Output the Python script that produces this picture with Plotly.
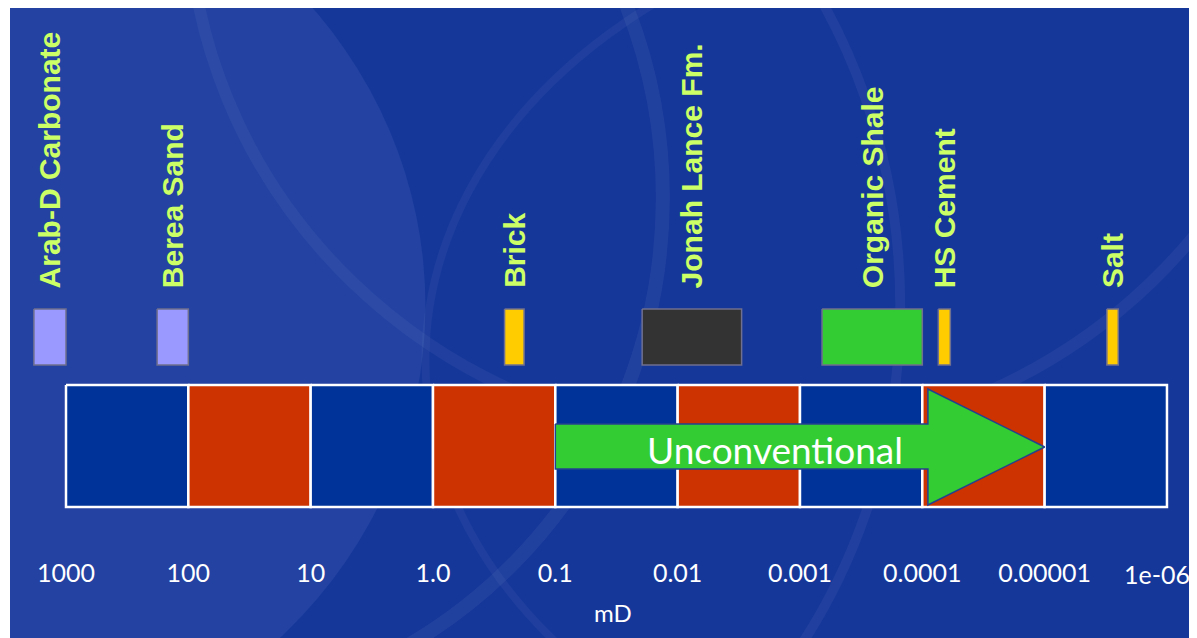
import math
import plotly.graph_objects as go

# ---- data ----
decade_edges = [1000, 100, 10, 1.0, 0.1, 0.01, 0.001, 0.0001, 0.00001, 0.000001]
decade_colors = ["#003399", "#CC3300", "#003399", "#CC3300", "#003399",
                 "#CC3300", "#003399", "#CC3300", "#003399"]

materials = ["Arab-D Carbonate", "Berea Sand", "Brick", "Jonah Lance Fm.",
             "Organic Shale", "HS Cement", "Salt"]
perm_high = [1830, 180, 0.26, 0.0195, 0.00066, 0.000074, 0.0000031]
perm_low = [1000, 100, 0.18, 0.003, 0.0001, 0.000059, 0.0000025]
material_colors = ["#9999FF", "#9999FF", "#FFCC00", "#333333",
                   "#33CC33", "#FFCC00", "#FFCC00"]

tick_vals = [1000, 100, 10, 1.0, 0.1, 0.01, 0.001, 0.0001, 0.00001, 0.000001]
tick_text = ["1000", "100", "10", "1.0", "0.1", "0.01", "0.001", "0.0001",
             "0.00001", "1e-06"]

arrow_start = 0.1
arrow_head_base = 0.00009
arrow_tip = 0.00001
arrow_label = "Unconventional"
arrow_label_x = 0.0016
axis_title = "mD"

# ---- vertical layout (y axis in page-pixel-like units, reversed) ----
band_top, band_bottom = 385, 507
mat_top, mat_bottom = 309, 365
label_base = 290
shaft_top, shaft_bottom = 424, 469
head_top, head_bottom = 389, 505

fig = go.Figure()

# decade band
for i, col in enumerate(decade_colors):
    x0, x1 = decade_edges[i], decade_edges[i + 1]
    fig.add_trace(go.Scatter(
        x=[x0, x1, x1, x0, x0],
        y=[band_top, band_top, band_bottom, band_bottom, band_top],
        fill="toself", fillcolor=col, mode="lines",
        line=dict(color="white", width=2.5), hoverinfo="skip", showlegend=False))

# material bars
for name, hi, lo, col in zip(materials, perm_high, perm_low, material_colors):
    fig.add_trace(go.Scatter(
        x=[hi, lo, lo, hi, hi],
        y=[mat_top, mat_top, mat_bottom, mat_bottom, mat_top],
        fill="toself", fillcolor=col, mode="lines",
        line=dict(color="#6f6f8f", width=1.5), name=name, showlegend=False))
    xc = (math.log10(hi) + math.log10(lo)) / 2
    fig.add_annotation(
        x=xc, y=label_base, xref="x", yref="y", text=name, textangle=-90,
        showarrow=False, xanchor="center", yanchor="bottom",
        font=dict(family="Liberation Sans, Arial", size=30, color="#CCFF66",
                  weight="bold"))

# unconventional arrow
mid = (head_top + head_bottom) / 2
fig.add_trace(go.Scatter(
    x=[arrow_start, arrow_head_base, arrow_head_base, arrow_tip,
       arrow_head_base, arrow_head_base, arrow_start, arrow_start],
    y=[shaft_top, shaft_top, head_top, mid, head_bottom, shaft_bottom,
       shaft_bottom, shaft_top],
    fill="toself", fillcolor="#33CC33", mode="lines",
    line=dict(color="#24418f", width=1.5), hoverinfo="skip", showlegend=False))
fig.add_annotation(
    x=math.log10(arrow_label_x), y=449, xref="x", yref="y", text=arrow_label,
    showarrow=False, font=dict(family="Lato", size=37, color="white"))

fig.add_annotation(
    x=0.508, y=-0.1144, xref="paper", yref="paper", text=axis_title,
    showarrow=False, xanchor="center", yanchor="middle",
    font=dict(family="Lato", size=24, color="white"))

# last tick label sits against the right edge; drawn at its axis position
tick_font = dict(family="Lato", size=25, color="white")
fig.add_annotation(
    x=math.log10(tick_vals[-1]), y=-0.0443, xref="x", yref="paper",
    text=tick_text[-1], showarrow=False, xanchor="center", yanchor="middle",
    xshift=-10, font=tick_font)

# background decorations (paper coords), lighter left glow and arcs
shapes = []
shapes.append(dict(type="circle", xref="paper", yref="paper",
                   x0=-0.45, x1=0.35, y0=-0.4, y1=1.3,
                   fillcolor="rgba(120,150,220,0.13)", line=dict(width=0),
                   layer="below"))
for (cx0, cx1, cy0, cy1, w, a) in [(-0.3, 0.55, -0.3, 1.6, 14, 0.05),
                                   (-0.1, 0.75, -0.6, 1.5, 10, 0.045),
                                   (0.15, 1.1, 0.2, 2.2, 12, 0.045),
                                   (0.35, 1.4, -0.5, 1.2, 8, 0.04)]:
    shapes.append(dict(type="circle", xref="paper", yref="paper",
                       x0=cx0, x1=cx1, y0=cy0, y1=cy1,
                       line=dict(color=f"rgba(255,255,255,{a})", width=w),
                       layer="below"))
# thin white strip on the left edge
shapes.append(dict(type="rect", xref="paper", yref="paper",
                   x0=-0.01, x1=0, y0=-0.5, y1=1.1,
                   fillcolor="white", line=dict(width=0), layer="above"))
fig.update_layout(shapes=shapes)

fig.update_layout(
    width=1189, height=630,
    margin=dict(l=2, r=0, t=0, b=88, autoexpand=False),
    paper_bgcolor="#16379a", plot_bgcolor="rgba(0,0,0,0)",
    xaxis=dict(type="log", range=[3.4578, -6.2455], tickvals=tick_vals[:-1],
               ticktext=tick_text[:-1], showgrid=False, zeroline=False,
               showline=False, ticks="outside", ticklen=1, automargin=False,
               tickcolor="rgba(0,0,0,0)", ticklabeloverflow="allow",
               tickfont=tick_font),
    yaxis=dict(range=[550, 8], showgrid=False, zeroline=False,
               showticklabels=False, showline=False, automargin=False),
    showlegend=False,
)

fig.write_html("out.html")
